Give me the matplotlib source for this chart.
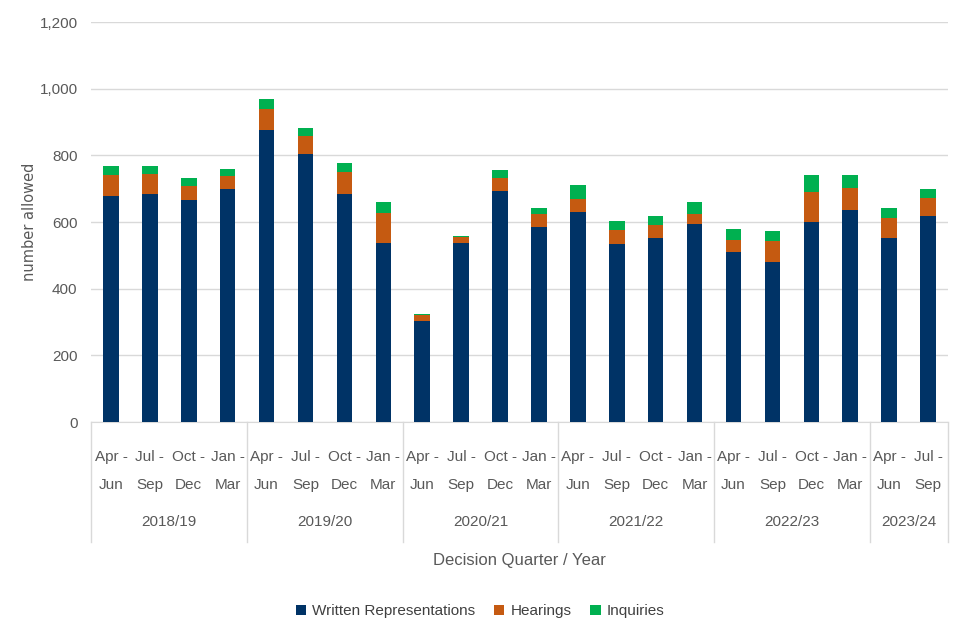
import matplotlib
matplotlib.use("Agg")
import matplotlib.pyplot as plt
import numpy as np
from matplotlib.patches import Patch
import matplotlib.transforms as mtransforms

plt.rcParams['font.family'] = ['Liberation Sans Narrow', 'Liberation Sans', 'DejaVu Sans']

# Datos
quarters = ["Apr -\nJun", "Jul -\nSep", "Oct -\nDec", "Jan -\nMar"] * 5 + ["Apr -\nJun", "Jul -\nSep"]
years = ["2018/19", "2019/20", "2020/21", "2021/22", "2022/23", "2023/24"]
year_sizes = [4, 4, 4, 4, 4, 2]

written = [678, 683, 666, 700, 876, 804, 683, 538, 303, 537, 694, 586,
           631, 534, 551, 595, 509, 481, 601, 636, 552, 617]
hearings = [62, 62, 42, 39, 62, 55, 66, 88, 17, 17, 38, 39,
            39, 41, 41, 30, 36, 61, 88, 67, 60, 55]
inquiries = [29, 24, 24, 21, 30, 24, 29, 33, 3, 5, 23, 18,
             41, 28, 25, 36, 33, 32, 52, 38, 29, 27]

c_wr = '#003366'
c_h = '#C55A11'
c_i = '#00B050'
grey = '#595959'

fig = plt.figure(figsize=(9.6, 6.4), dpi=100)
ax = fig.add_axes([0.0953, 0.3406, 0.8917, 0.625])

x = np.arange(len(written))
w = np.array(written)
h = np.array(hearings)
i = np.array(inquiries)

ax.bar(x, w, width=0.4, color=c_wr, zorder=3)
ax.bar(x, h, width=0.4, bottom=w, color=c_h, zorder=3)
ax.bar(x, i, width=0.4, bottom=w + h, color=c_i, zorder=3)

ax.set_xlim(-0.5, len(x) - 0.5)
ax.set_ylim(0, 1200)
ax.set_yticks(range(0, 1201, 200))
ax.set_yticklabels([f"{v:,}" for v in range(0, 1201, 200)], fontsize=11, color=grey)
ax.yaxis.grid(True, color='#D9D9D9', linewidth=1, zorder=0)
ax.tick_params(axis='y', length=0, pad=10)

ax.set_xticks(x)
ax.set_xticklabels(quarters, fontsize=11, color=grey, linespacing=2.3)
ax.tick_params(axis='x', length=0, pad=20)

for s in ['top', 'right', 'left']:
    ax.spines[s].set_visible(False)
ax.spines['bottom'].set_color('#D9D9D9')

ax.text(-0.072, 0.5, "number allowed", transform=ax.transAxes, rotation=90,
        ha='center', va='center', fontsize=10.5, color=grey, family=['DejaVu Sans'])

# Separadores y etiquetas de año
trans = mtransforms.blended_transform_factory(ax.transData, ax.transAxes)
start = -0.5
ax.plot([start, start], [0, -0.3], transform=trans, color='#D9D9D9', lw=1, clip_on=False)
for yr, n in zip(years, year_sizes):
    end = start + n
    ax.plot([end, end], [0, -0.3], transform=trans, color='#D9D9D9', lw=1, clip_on=False)
    ax.text((start + end) / 2, -0.25, yr, transform=trans, ha='center', va='center',
            fontsize=11, color=grey)
    start = end

ax.text(0.5, -0.347, "Decision Quarter / Year", transform=ax.transAxes,
        ha='center', va='center', fontsize=12, color=grey)

handles = [Patch(facecolor=c_wr), Patch(facecolor=c_h), Patch(facecolor=c_i)]
fig.legend(handles, ["Written Representations", "Hearings", "Inquiries"],
           loc='center', bbox_to_anchor=(0.5, 0.045), ncol=3, frameon=False,
           fontsize=11, handlelength=0.7, handleheight=0.7, columnspacing=1.2,
           handletextpad=0.4, labelcolor='#404040')

fig.savefig("out.png", dpi=100)
